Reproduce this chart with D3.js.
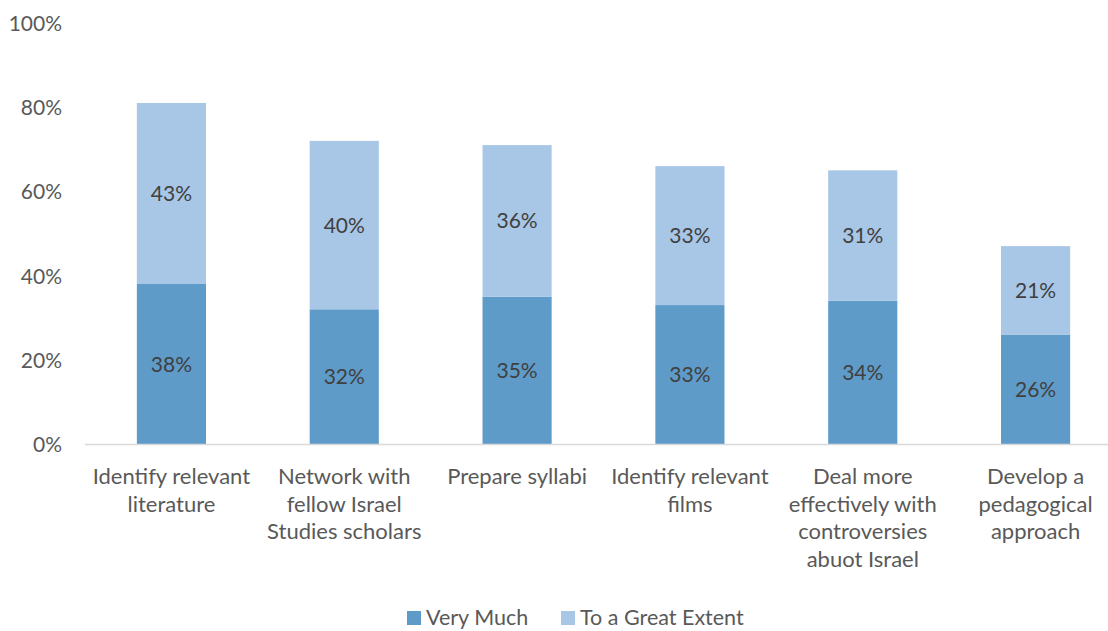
<!DOCTYPE html>
<html>
<head>
<meta charset="utf-8">
<script src="https://cdn.jsdelivr.net/npm/d3@7"></script>
<style>
  html, body { margin: 0; padding: 0; background: #fff; }
  svg { display: block; font-family: Lato, "Open Sans", sans-serif; }
</style>
</head>
<body>
<svg id="chart" width="1108" height="631"></svg>
<script>
// Categories (each label split into its wrapped lines)
const categories = [
  ["Identify relevant", "literature"],
  ["Network with", "fellow Israel", "Studies scholars"],
  ["Prepare syllabi"],
  ["Identify relevant", "films"],
  ["Deal more", "effectively with", "controversies", "abuot Israel"],
  ["Develop a", "pedagogical", "approach"]
];
const seriesNames = ["Very Much", "To a Great Extent"];
const veryMuch = [38, 32, 35, 33, 34, 26];
const greatExtent = [43, 40, 36, 33, 31, 21];
const yTicks = [0, 20, 40, 60, 80, 100];

const colors = ["#5f9bc8", "#a8c6e6"];

const svg = d3.select("#chart");

const x = d3.scaleBand()
  .domain(d3.range(categories.length))
  .range([85, 1122])
  .paddingInner(0.6)
  .paddingOuter(0.3);

const y = d3.scaleLinear().domain([0, 100]).range([444, 23]);

// y axis labels
const yAxis = d3.axisLeft(y).tickValues(yTicks).tickFormat(d => d + "%").tickSize(0).tickPadding(0);
const gy = svg.append("g").attr("transform", "translate(62,0)").call(yAxis);
gy.select(".domain").remove();
gy.selectAll("text")
  .attr("fill", "#595959")
  .style("font-size", "21px")
  .style("font-family", "Lato, 'Open Sans', sans-serif")
  .attr("dy", "0.36em");

// stacked bars
const rows = categories.map((c, i) => ({ i, v: [veryMuch[i], greatExtent[i]] }));
rows.forEach(r => {
  let base = 0;
  r.v.forEach((val, s) => {
    const y0 = base, y1 = base + val;
    svg.append("rect")
      .attr("x", x(r.i))
      .attr("width", x.bandwidth())
      .attr("y", y(y1))
      .attr("height", y(y0) - y(y1))
      .attr("fill", colors[s]);
    svg.append("text")
      .attr("x", x(r.i) + x.bandwidth() / 2)
      .attr("y", (y(y0) + y(y1)) / 2)
      .attr("dy", "0.36em")
      .attr("text-anchor", "middle")
      .attr("fill", "#404040")
      .style("font-size", "21px")
      .text(val + "%");
    base = y1;
  });
});

// baseline
svg.append("line")
  .attr("x1", 85).attr("x2", 1108)
  .attr("y1", y(0) + 0.5).attr("y2", y(0) + 0.5)
  .attr("stroke", "#d9d9d9").attr("stroke-width", 1.5);

// category labels
categories.forEach((lines, i) => {
  const t = svg.append("text")
    .attr("x", x(i) + x.bandwidth() / 2)
    .attr("y", 484)
    .attr("text-anchor", "middle")
    .attr("fill", "#595959")
    .style("font-size", "22px");
  lines.forEach((ln, k) => {
    t.append("tspan")
      .attr("x", x(i) + x.bandwidth() / 2)
      .attr("y", 484 + k * 27.6)
      .text(ln);
  });
});

// legend
const legendItems = [
  { name: seriesNames[0], color: colors[0], x: 407 },
  { name: seriesNames[1], color: colors[1], x: 561 }
];
legendItems.forEach(d => {
  svg.append("rect")
    .attr("x", d.x).attr("y", 611)
    .attr("width", 14).attr("height", 14)
    .attr("fill", d.color);
  svg.append("text")
    .attr("x", d.x + 19).attr("y", 617)
    .attr("dy", "0.36em")
    .attr("fill", "#595959")
    .style("font-size", "21.5px")
    .text(d.name);
});
</script>
</body>
</html>
